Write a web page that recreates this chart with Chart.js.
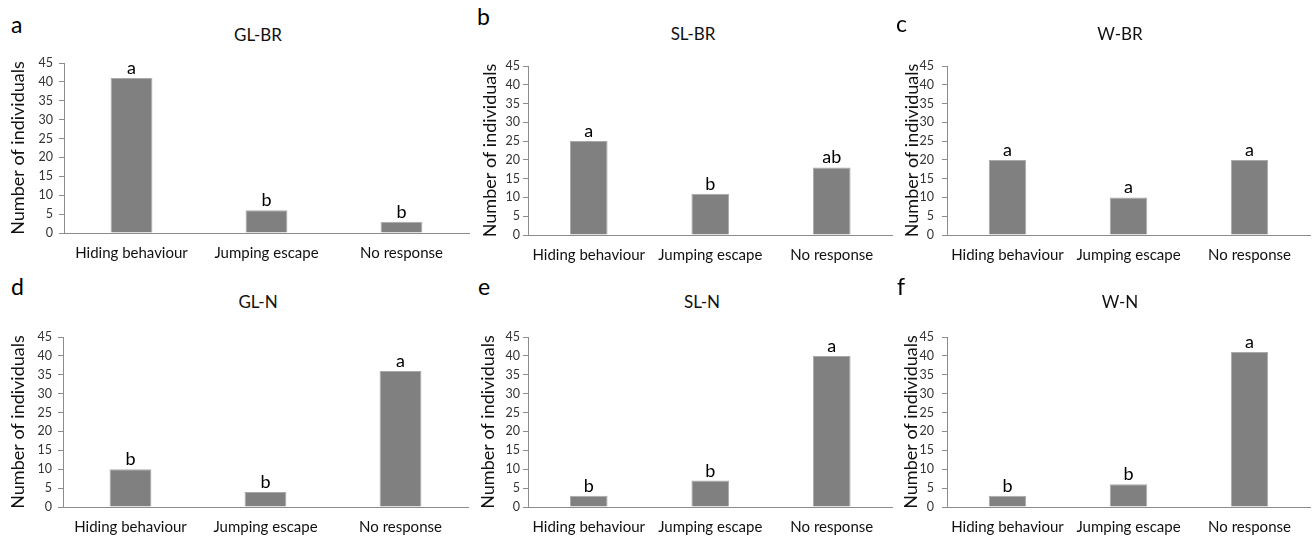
<!DOCTYPE html>
<html>
<head>
<meta charset="utf-8">
<script src="https://cdn.jsdelivr.net/npm/chart.js@4.4.1/dist/chart.umd.min.js"></script>
<style>
  body { margin: 0; background: #fff; width: 1315px; height: 540px; position: relative; overflow: hidden; font-family: Lato, sans-serif; }
  canvas { position: absolute; }
  .letter { position: absolute; font-size: 23px; line-height: 23px; color: #000; }
  .title { position: absolute; width: 200px; text-align: center; font-size: 17px; line-height: 17px; color: #111; }
</style>
</head>
<body>
<script>
const categories = ['Hiding behaviour', 'Jumping escape', 'No response'];
const yTicks = [0, 5, 10, 15, 20, 25, 30, 35, 40, 45];

const panelLetters = ['a', 'b', 'c', 'd', 'e', 'f'];
const panelTitles = ['GL-BR', 'SL-BR', 'W-BR', 'GL-N', 'SL-N', 'W-N'];

const glBR = [41, 6, 3];
const slBR = [25, 11, 18];
const wBR = [20, 10, 20];
const glN = [10, 4, 36];
const slN = [3, 7, 40];
const wN = [3, 6, 41];

const sigGLBR = ['a', 'b', 'b'];
const sigSLBR = ['a', 'b', 'ab'];
const sigWBR = ['a', 'a', 'a'];
const sigGLN = ['b', 'b', 'a'];
const sigSLN = ['b', 'b', 'a'];
const sigWN = ['b', 'b', 'a'];

const seriesList = [glBR, slBR, wBR, glN, slN, wN];
const sigList = [sigGLBR, sigSLBR, sigWBR, sigGLN, sigSLN, sigWN];

// page layout of each panel (canvas box + wanted plot area)
const layout = [
  { x: 0,   y: 0,   w: 472, h: 270, left: 64,  right: 469,  top: 63,  bottom: 233, tp: 7, tk: 6, lx: 11,  ly: 13,  tx: 258,  ty: 26 },
  { x: 472, y: 0,   w: 428, h: 270, left: 528, right: 892.5, top: 66, bottom: 235, tp: 7, tk: 3, lx: 477, ly: 5,   tx: 693,  ty: 25 },
  { x: 900, y: 0,   w: 415, h: 270, left: 947, right: 1310, top: 66,  bottom: 235, tp: 1, tk: 8, lx: 896, ly: 12,  tx: 1120, ty: 25 },
  { x: 0,   y: 270, w: 472, h: 270, left: 63,  right: 468,  top: 337, bottom: 507, tp: 7, tk: 6, lx: 11,  ly: 275, tx: 258,  ty: 293 },
  { x: 472, y: 270, w: 428, h: 270, left: 528, right: 892.5, top: 337, bottom: 507, tp: 5, tk: 3, lx: 478, ly: 275, tx: 702,  ty: 293 },
  { x: 900, y: 270, w: 415, h: 270, left: 947, right: 1310, top: 337, bottom: 507, tp: 0, tk: 8, lx: 897, ly: 275, tx: 1120, ty: 293 }
];

const fam = 'Lato';

function sigPlugin(labels) {
    return {
        id: 'sig',
        afterDatasetsDraw(chart) {
            const ctx = chart.ctx;
            const meta = chart.getDatasetMeta(0);
            ctx.save();
            ctx.font = '18px ' + fam;
            ctx.fillStyle = '#000';
            ctx.textAlign = 'center';
            ctx.textBaseline = 'alphabetic';
            meta.data.forEach((bar, i) => {
                ctx.fillText(labels[i], bar.x, bar.y - 4);
            });
            ctx.restore();
        }
    };
}

layout.forEach((p, i) => {
    const letter = document.createElement('div');
    letter.className = 'letter';
    letter.style.left = p.lx + 'px';
    letter.style.top = p.ly + 'px';
    letter.textContent = panelLetters[i];
    document.body.appendChild(letter);

    const title = document.createElement('div');
    title.className = 'title';
    title.style.left = (p.tx - 100) + 'px';
    title.style.top = p.ty + 'px';
    title.textContent = panelTitles[i];
    document.body.appendChild(title);

    const canvas = document.createElement('canvas');
    canvas.width = p.w;
    canvas.height = p.h;
    canvas.style.left = p.x + 'px';
    canvas.style.top = p.y + 'px';
    document.body.appendChild(canvas);

    new Chart(canvas, {
        type: 'bar',
        data: {
            labels: categories,
            datasets: [{
                data: seriesList[i],
                backgroundColor: '#808080',
                borderColor: '#a9a9a9',
                borderWidth: 1,
                barPercentage: 0.31,
                categoryPercentage: 1
            }]
        },
        plugins: [sigPlugin(sigList[i])],
        options: {
            responsive: false,
            animation: false,
            events: [],
            layout: {
                padding: { left: 0, top: p.top - p.y, right: p.x + p.w - p.right, bottom: 0 }
            },
            plugins: {
                legend: { display: false },
                tooltip: { enabled: false },
                title: { display: false }
            },
            scales: {
                x: {
                    grid: { display: false, drawTicks: false },
                    border: { display: true, color: '#8c8c8c', width: 1 },
                    ticks: {
                        font: { family: fam, size: 15 },
                        color: '#111',
                        padding: 11,
                        maxRotation: 0,
                        autoSkip: false
                    },
                    afterFit: s => { s.height = p.y + p.h - p.bottom; }
                },
                y: {
                    min: 0,
                    max: 45,
                    afterBuildTicks: s => { s.ticks = yTicks.map(v => ({ value: v })); },
                    grid: { display: true, drawOnChartArea: false, drawTicks: true, tickLength: 5, color: '#8c8c8c' },
                    border: { display: true, color: '#8c8c8c', width: 1 },
                    ticks: {
                        font: { family: fam, size: 12.5 },
                        color: '#333',
                        padding: p.tk
                    },
                    title: {
                        display: true,
                        text: 'Number of individuals',
                        font: { family: fam, size: 18 },
                        color: '#111',
                        padding: { top: p.tp, bottom: 0 }
                    },
                    afterFit: s => { s.width = p.left - p.x; }
                }
            }
        }
    });
});
</script>
</body>
</html>
